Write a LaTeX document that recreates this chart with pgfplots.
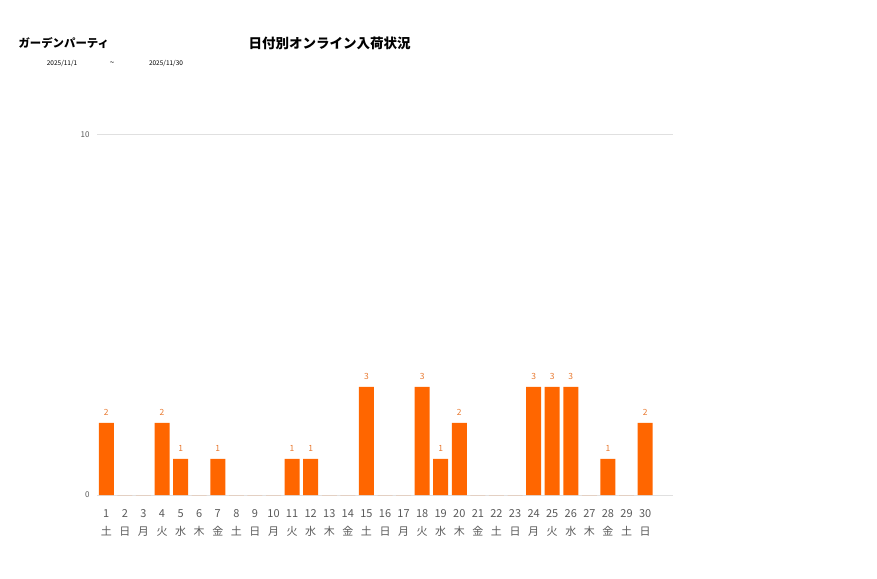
\documentclass[border=0pt]{standalone}
\usepackage{fontspec}
\setmainfont{Noto Sans CJK JP}
\usepackage{pgfplots}
\usepackage{pgfplotstable}
\pgfplotsset{compat=1.18}
\definecolor{BarOrange}{HTML}{FF6600}
\definecolor{LabOrange}{HTML}{E8782E}
\definecolor{TickGray}{HTML}{595959}
\definecolor{GridGray}{HTML}{E0E0E0}

\pgfplotstableread{
day val
1 2
2 0
3 0
4 2
5 1
6 0
7 1
8 0
9 0
10 0
11 1
12 1
13 0
14 0
15 3
16 0
17 0
18 3
19 1
20 2
21 0
22 0
23 0
24 3
25 3
26 3
27 0
28 1
29 0
30 2
}\arrivals

\begin{document}
\begin{tikzpicture}
\path[use as bounding box] (0pt,0pt) rectangle (877pt,578pt);
% titles
\node[anchor=west, font=\fontsize{11.4}{14}\selectfont\bfseries] at (15pt,535pt) {ガーデンパーティ};
\node[anchor=west, font=\fontsize{13.5}{15}\selectfont\bfseries] at (245pt,535pt) {日付別オンライン入荷状況};
\node[font=\fontsize{6.5}{8}\selectfont] at (62pt,514pt) {2025/11/1};
\node[font=\fontsize{8}{9}\selectfont] at (112pt,514pt) {\char"007E};
\node[font=\fontsize{6.5}{8}\selectfont] at (166pt,514pt) {2025/11/30};
\begin{axis}[
    at={(97pt,83pt)}, anchor=south west,
    scale only axis, width=576pt, height=360pt,
    ybar, bar width=15pt, bar shift=0pt,
    xmin=0.5, xmax=31.5, ymin=0, ymax=10,
    ytick={0,10}, xtick={1,...,30},
    xticklabels={{1\\土},{2\\日},{3\\月},{4\\火},{5\\水},{6\\木},{7\\金},{8\\土},{9\\日},{10\\月},
                 {11\\火},{12\\水},{13\\木},{14\\金},{15\\土},{16\\日},{17\\月},{18\\火},{19\\水},{20\\木},
                 {21\\金},{22\\土},{23\\日},{24\\月},{25\\火},{26\\水},{27\\木},{28\\金},{29\\土},{30\\日}},
    xticklabel style={align=center, font=\fontsize{11}{18}\selectfont, text=TickGray, yshift=-11pt},
    yticklabel style={font=\fontsize{8}{9}\selectfont, text=TickGray, xshift=-4pt},
    /pgf/number format/assume math mode=true,
    axis line style={draw=none},
    major tick length=0pt,
    ymajorgrids, grid style={GridGray, line width=1pt},
    nodes near coords={\pgfmathfloatifflags{\pgfplotspointmeta}{0}{}{\pgfmathprintnumber{\pgfplotspointmeta}}},
    nodes near coords style={font=\fontsize{8.5}{9}\selectfont, text=LabOrange, yshift=4pt},
    clip=false,
]
\addplot[fill=BarOrange, draw=none] table[x=day, y=val] {\arrivals};
\end{axis}
\end{tikzpicture}
\end{document}
